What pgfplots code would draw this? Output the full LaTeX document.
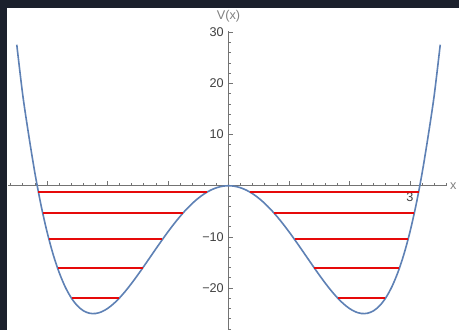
\documentclass[border=0pt]{standalone}
\usepackage{pgfplots}
\pgfplotsset{compat=1.18}
\usepackage{fontspec}
\setmainfont{Liberation Sans}
\definecolor{mmablue}{rgb}{0.368417,0.506779,0.709798}
\definecolor{framebg}{RGB}{27,32,44}
\definecolor{lvl}{RGB}{230,10,10}
\begin{document}
\begin{tikzpicture}
\fill[framebg] (0pt,0pt) rectangle (344.25pt,247.5pt);
\fill[white] (5.25pt,0pt) rectangle (344.25pt,241.5pt);
\useasboundingbox (0pt,0pt) rectangle (344.25pt,247.5pt);
\begin{axis}[
  at={(6pt,0pt)}, anchor=south west,
  scale only axis, width=329.25pt, height=224.5pt,
  xmin=-3.645, xmax=3.612, ymin=-28.2, ymax=30.31,
  axis lines=middle,
  axis line style={-, black!55, line width=0.5pt},
  tick align=inside,
  major tick length=3.3pt, minor tick length=1.8pt,
  tick style={black!55, line width=0.5pt},
  xtick={-3,-2,-1,1,2,3}, xticklabels={,,,,,3},
  minor xtick={-3.6,-3.4,-3.2,-2.8,-2.6,-2.4,-2.2,-1.8,-1.6,-1.4,-1.2,-0.8,-0.6,-0.4,-0.2,0.2,0.4,0.6,0.8,1.2,1.4,1.6,1.8,2.2,2.4,2.6,2.8,3.2,3.4,3.6},
  ytick={-20,-10,10,20,30}, yticklabels={−20,−10,10,20,30},
  minor ytick={-28,-26,-24,-22,-18,-16,-14,-12,-8,-6,-4,-2,2,4,6,8,12,14,16,18,22,24,26,28},
  ticklabel style={font=\fontsize{9.5}{11}\selectfont, text=black!75},
  xticklabel style={yshift=-2pt},
  xlabel={x}, ylabel={V(x)},
  xlabel style={font=\fontsize{9.5}{11}\selectfont, text=black!50, at={(current axis.right of origin)}, anchor=west, inner sep=1pt, xshift=1pt},
  ylabel style={font=\fontsize{9.5}{11}\selectfont, text=black!50, at={(current axis.above origin)}, anchor=south, yshift=3pt},
  clip=false,
]
\addplot[mmablue, line width=1.2pt, smooth] coordinates {
(-3.5,27.5625) (-3.4,17.6336) (-3.3,9.6921) (-3.2,2.4576) (-3.1,-3.7479)
(-3.0,-9) (-2.9,-13.3719) (-2.8,-16.9344) (-2.7,-19.7559) (-2.6,-21.9024)
(-2.5,-23.4375) (-2.4,-24.4224) (-2.3,-24.9159) (-2.2,-24.9744) (-2.1,-24.6519)
(-2.0,-24) (-1.9,-23.0679) (-1.8,-21.9024) (-1.7,-20.5479) (-1.6,-19.0464)
(-1.5,-17.4375) (-1.4,-15.7584) (-1.3,-14.0439) (-1.2,-12.3264) (-1.1,-10.6359)
(-1.0,-9) (-0.9,-7.4439) (-0.8,-5.9904) (-0.7,-4.6599) (-0.6,-3.4704)
(-0.5,-2.4375) (-0.4,-1.5744) (-0.3,-0.8919) (-0.2,-0.3984) (-0.1,-0.0999)
(0,0)
(0.1,-0.0999) (0.2,-0.3984) (0.3,-0.8919) (0.4,-1.5744) (0.5,-2.4375)
(0.6,-3.4704) (0.7,-4.6599) (0.8,-5.9904) (0.9,-7.4439) (1.0,-9)
(1.1,-10.6359) (1.2,-12.3264) (1.3,-14.0439) (1.4,-15.7584) (1.5,-17.4375)
(1.6,-19.0464) (1.7,-20.5479) (1.8,-21.9024) (1.9,-23.0679) (2.0,-24)
(2.1,-24.6519) (2.2,-24.9744) (2.3,-24.9159) (2.4,-24.4224) (2.5,-23.4375)
(2.6,-21.9024) (2.7,-19.7559) (2.8,-16.9344) (2.9,-13.3719) (3.0,-9)
(3.1,-3.7479) (3.2,2.4576) (3.3,9.6921) (3.4,17.6336) (3.5,27.5625)
};
\addplot[lvl, line width=1.5pt] coordinates {(-3.1414,-1.3) (-0.3633,-1.3)};
\addplot[lvl, line width=1.5pt] coordinates {(-3.0703,-5.4) (-0.7570,-5.4)};
\addplot[lvl, line width=1.5pt] coordinates {(-2.9678,-10.5) (-1.0918,-10.5)};
\addplot[lvl, line width=1.5pt] coordinates {(-2.8255,-16.1) (-1.4202,-16.1)};
\addplot[lvl, line width=1.5pt] coordinates {(-2.5946,-22.0) (-1.8077,-22.0)};
\addplot[lvl, line width=1.5pt] coordinates {(0.3633,-1.3) (3.1414,-1.3)};
\addplot[lvl, line width=1.5pt] coordinates {(0.7570,-5.4) (3.0703,-5.4)};
\addplot[lvl, line width=1.5pt] coordinates {(1.0918,-10.5) (2.9678,-10.5)};
\addplot[lvl, line width=1.5pt] coordinates {(1.4202,-16.1) (2.8255,-16.1)};
\addplot[lvl, line width=1.5pt] coordinates {(1.8077,-22.0) (2.5946,-22.0)};
\end{axis}
\end{tikzpicture}
\end{document}
